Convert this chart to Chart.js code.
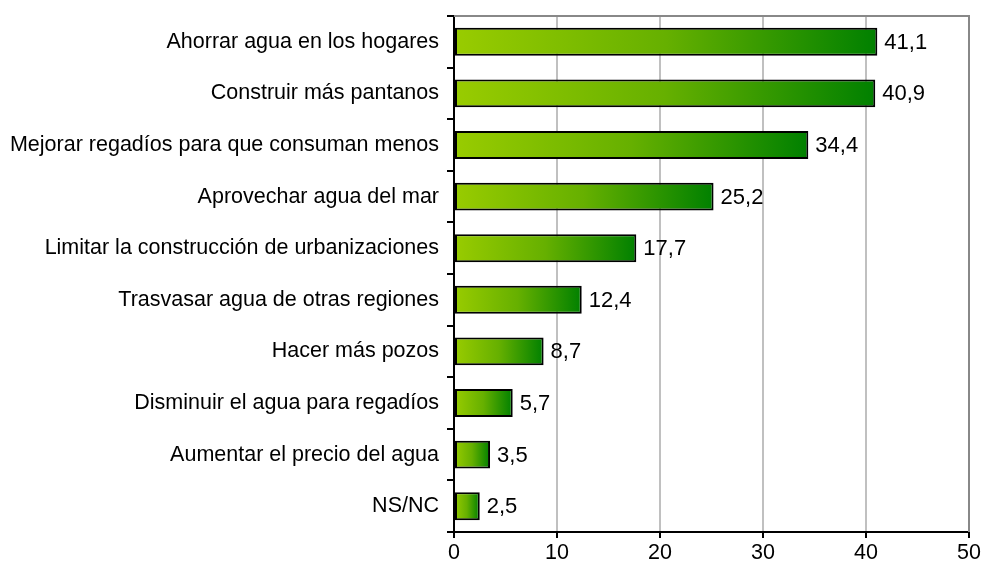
<!DOCTYPE html>
<html>
<head>
<meta charset="utf-8">
<script src="https://cdn.jsdelivr.net/npm/chart.js@4/dist/chart.umd.min.js"></script>
<style>
  html, body { margin: 0; padding: 0; background: #fff; }
  #wrap { width: 982px; height: 570px; }
</style>
</head>
<body>
<div id="wrap"><canvas id="myChart" width="982" height="570"></canvas></div>
<script>
const categories = [
    'Ahorrar agua en los hogares',
    'Construir más pantanos',
    'Mejorar regadíos para que consuman menos',
    'Aprovechar agua del mar',
    'Limitar la construcción de urbanizaciones',
    'Trasvasar agua de otras regiones',
    'Hacer más pozos',
    'Disminuir el agua para regadíos',
    'Aumentar el precio del agua',
    'NS/NC'
];
const values = [41.1, 40.9, 34.4, 25.2, 17.7, 12.4, 8.7, 5.7, 3.5, 2.5];
const xTicks = [0, 10, 20, 30, 40, 50];

const FONT = 'Liberation Sans, Arial, sans-serif';

// gradient per bar, light green at the base to dark green at the end
function barGradient(context) {
    const chart = context.chart;
    const x = chart.scales.x;
    if (!x || !chart.chartArea) return '#66b000';
    const x0 = x.getPixelForValue(0);
    const x1 = x.getPixelForValue(context.raw);
    if (!isFinite(x0) || !isFinite(x1) || x1 <= x0) return '#66b000';
    const g = chart.ctx.createLinearGradient(x0, 0, x1, 0);
    g.addColorStop(0, '#99cc00');
    g.addColorStop(0.5, '#66b000');
    g.addColorStop(1, '#008000');
    return g;
}

const frame = {
    id: 'frame',
    beforeDatasetsDraw(chart) {
        const { ctx, chartArea: a } = chart;
        ctx.save();
        ctx.strokeStyle = '#888888';
        ctx.lineWidth = 2;
        ctx.beginPath();
        ctx.moveTo(a.left, a.top);
        ctx.lineTo(a.right, a.top);
        ctx.lineTo(a.right, a.bottom);
        ctx.stroke();
        ctx.restore();
    }
};

const valueLabels = {
    id: 'valueLabels',
    afterDatasetsDraw(chart) {
        const { ctx } = chart;
        const meta = chart.getDatasetMeta(0);
        ctx.save();
        ctx.font = '22px ' + FONT;
        ctx.fillStyle = '#000';
        ctx.textAlign = 'left';
        ctx.textBaseline = 'middle';
        meta.data.forEach((bar, i) => {
            const txt = values[i].toFixed(1).replace('.', ',');
            ctx.fillText(txt, bar.x + 7, bar.y + 1);
        });
        ctx.restore();
    }
};

const ctx = document.getElementById('myChart').getContext('2d');
new Chart(ctx, {
    type: 'bar',
    data: {
        labels: categories,
        datasets: [{
            data: values,
            backgroundColor: barGradient,
            borderColor: '#000',
            borderWidth: 2,
            borderSkipped: false,
            barPercentage: 0.54,
            categoryPercentage: 1
        }]
    },
    options: {
        indexAxis: 'y',
        responsive: false,
        animation: false,
        layout: { padding: { top: 16, right: 13, left: 0, bottom: 0 } },
        plugins: {
            legend: { display: false },
            tooltip: { enabled: false }
        },
        scales: {
            x: {
                min: 0,
                max: 50,
                afterBuildTicks: axis => { axis.ticks = xTicks.map(v => ({ value: v })); },
                afterFit: axis => {
                    axis.height = 38;
                    axis.paddingLeft = 0;
                    axis.paddingRight = 0;
                },
                grid: {
                    color: '#c0c0c0',
                    lineWidth: 2,
                    tickColor: '#000',
                    tickLength: 6
                },
                border: { color: '#000', width: 2 },
                ticks: {
                    color: '#000',
                    font: { family: FONT, size: 21.5 },
                    padding: 2,
                    maxRotation: 0
                }
            },
            y: {
                afterFit: axis => {
                    axis.width = 454;
                    axis.paddingTop = 0;
                    axis.paddingBottom = 0;
                },
                grid: {
                    drawOnChartArea: false,
                    offset: true,
                    color: '#000',
                    lineWidth: 2,
                    tickLength: 7
                },
                border: { color: '#000', width: 2 },
                ticks: {
                    color: '#000',
                    font: { family: FONT, size: 21.5 },
                    padding: 8
                }
            }
        }
    },
    plugins: [frame, valueLabels]
});
</script>
</body>
</html>
